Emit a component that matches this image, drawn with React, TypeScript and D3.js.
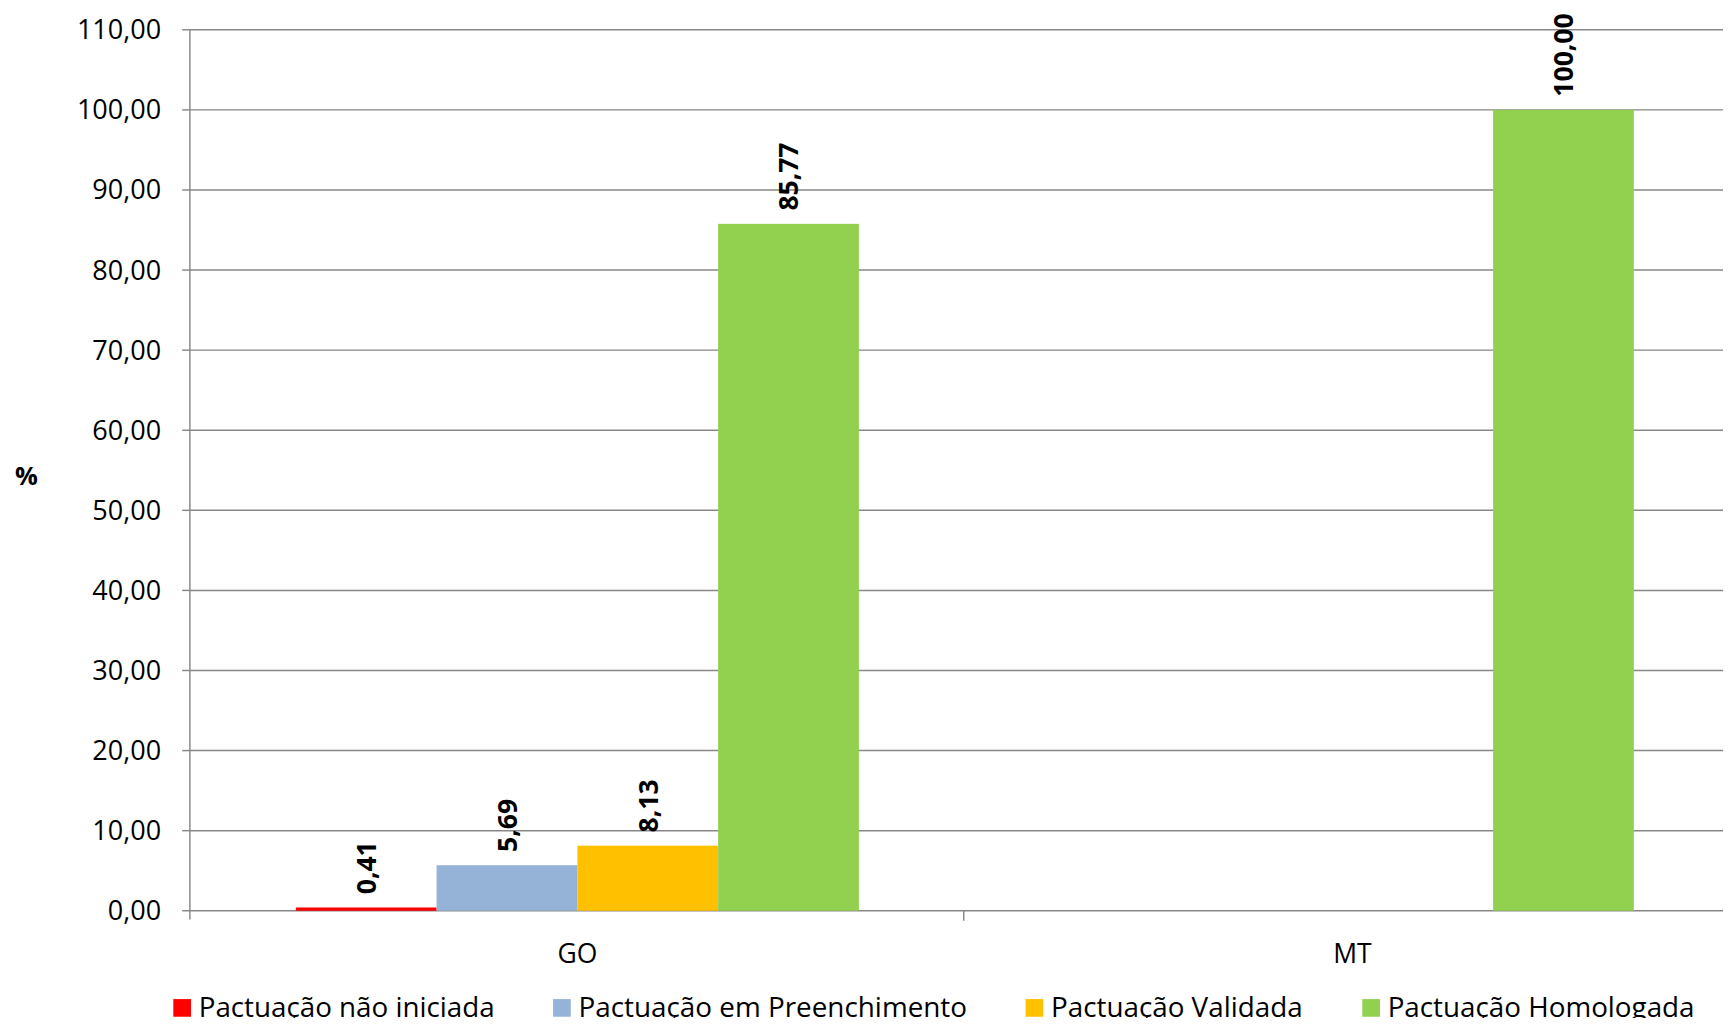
import React from "react";
import * as d3 from "d3";

const categories = ["GO", "MT"];
const seriesNames = ["Pactuação não iniciada", "Pactuação em Preenchimento", "Pactuação Validada", "Pactuação Homologada"];
const seriesColors = ["#FF0000", "#95B3D7", "#FFC000", "#92D050"];
const goValues = [0.41, 5.69, 8.13, 85.77];
const mtValues = [0, 0, 0, 100];
const yTicks = [0, 10, 20, 30, 40, 50, 60, 70, 80, 90, 100, 110];

const fmt = (v: number) => v.toFixed(2).replace(".", ",");
const FONT = "'Open Sans', 'Noto Sans', sans-serif";
const S = 1731 / 1568;

export default function App() {
  const left = 172, right = 1576, top = 27, bottom = 825;
  const y = d3.scaleLinear().domain([0, 110]).range([bottom, top]);
  const x = d3.scaleBand().domain(categories).range([left, right]);
  const inner = d3.scaleBand().domain(seriesNames).range([0, 510]);
  const data = [goValues, mtValues];
  const legendX = [157, 501, 929, 1234];
  return (
    <svg width={1731} height={1026} style={{ display: "block", margin: -8, background: "#fff" }}>
      <rect width={1731} height={1026} fill="#fff" />
      <g transform={`scale(${S})`}>
      {yTicks.map((t) => (
        <g key={t}>
          <line x1={left} x2={1568} y1={y(t)} y2={y(t)} stroke="#878787" strokeWidth={1.3} />
          <line x1={left - 7} x2={left} y1={y(t)} y2={y(t)} stroke="#878787" strokeWidth={1.3} />
          <text x={146} y={y(t)} dy="0.35em" textAnchor="end" fontFamily={FONT} fontSize={24.5} fill="#000">{fmt(t)}</text>
        </g>
      ))}
      <line x1={left} x2={left} y1={top} y2={bottom + 8} stroke="#878787" strokeWidth={1.3} />
      <line x1={873} x2={873} y1={bottom} y2={bottom + 9} stroke="#878787" strokeWidth={1.3} />
      <text x={24} y={431} dy="0.35em" textAnchor="middle" fontFamily={FONT} fontSize={23} fontWeight="bold">%</text>
      {categories.map((c, ci) => {
        const cx = x(c)! + x.bandwidth() / 2;
        return (
          <g key={c}>
            <text x={cx} y={864} dy="0.35em" textAnchor="middle" fontFamily={FONT} fontSize={24}>{c}</text>
            {data[ci].map((v, si) => {
              if (v === 0) return null;
              const bx = cx - 255 + inner(seriesNames[si])!;
              const by = y(v);
              const lx = bx + inner.bandwidth() / 2;
              return (
                <g key={si}>
                  <rect x={bx} y={by} width={inner.bandwidth()} height={bottom - by} fill={seriesColors[si]} />
                  <text transform={`translate(${lx + 9},${by - 12}) rotate(-90)`} fontFamily={FONT} fontSize={24} fontWeight="bold">{fmt(v)}</text>
                </g>
              );
            })}
          </g>
        );
      })}
      {seriesNames.map((s, i) => (
        <g key={s}>
          <rect x={legendX[i]} y={905} width={16} height={16} fill={seriesColors[i]} />
          <text x={legendX[i] + 23} y={913} dy="0.35em" fontFamily={FONT} fontSize={24} textLength={[268, 352, 228, 278][i]} lengthAdjust="spacingAndGlyphs">{s}</text>
        </g>
      ))}
      </g>
    </svg>
  );
}
